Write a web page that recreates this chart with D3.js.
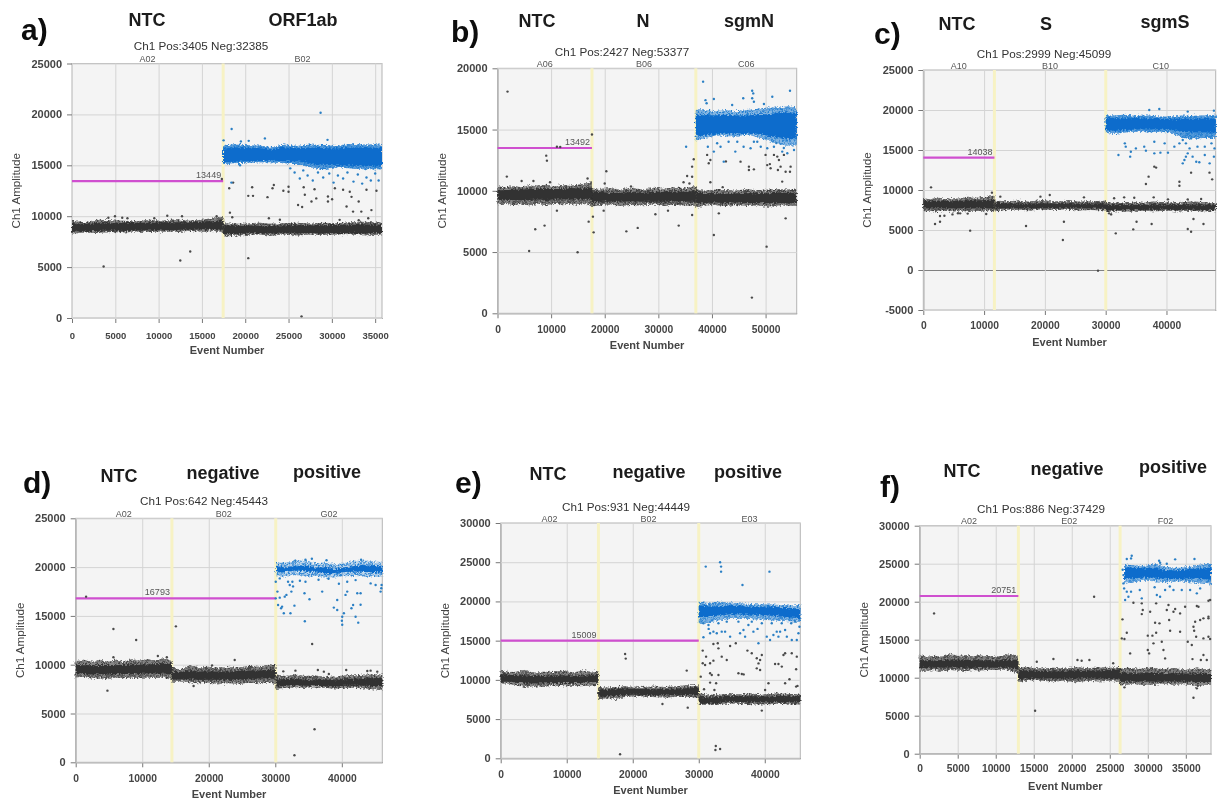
<!DOCTYPE html>
<html>
<head>
<meta charset="utf-8">
<script src="https://cdn.jsdelivr.net/npm/d3@7"></script>
<style>
    html, body { margin: 0; background: #fff; }
    svg { display: block; }
    text { font-family: "Liberation Sans", Arial, sans-serif; }
</style>
</head>
<body>
<div id="chart"></div>
<script>
// All amplitudes and event numbers below are read by eye off the reference.
// Band rows: [event, low edge, core low, core high, high edge]

// a) ORF1ab
const aTitle = "Ch1 Pos:3405 Neg:32385"
const aWells = ["A02", "B02"]
const aSplits = [17450]
const aXTicks = [0, 5000, 10000, 15000, 20000, 25000, 30000, 35000]
const aYTicks = [0, 5000, 10000, 15000, 20000, 25000]
const aGray = [
    [[0,8300,8500,9300,9550],[1500,8400,8550,9250,9400],[3000,8350,8550,9300,9650],[4500,8450,8600,9300,9600],[6000,8400,8550,9350,9550],[7500,8500,8600,9350,9500],[9000,8450,8600,9350,9650],[10500,8500,8650,9400,9550],[12000,8450,8650,9400,9700],[13500,8550,8700,9400,9550],[15000,8500,8700,9450,9650],[16500,8550,8750,9500,9850],[17450,8400,8700,9550,10000]],
    [[17450,8000,8250,9100,9300],[18500,8050,8250,9050,9250],[20000,8150,8300,9050,9250],[21500,8200,8350,9100,9350],[23000,8100,8300,9050,9250],[24500,8200,8350,9100,9300],[26000,8100,8300,9100,9350],[27500,8200,8350,9100,9250],[29000,8150,8300,9100,9350],[30500,8200,8350,9150,9300],[32000,8250,8350,9150,9400],[33500,8100,8350,9200,9450],[35790,8200,8350,9150,9350]]
]
const aBlue = [
    [[17450,15100,15300,16650,16900],[18500,15200,15350,16750,17050],[20000,15250,15400,16700,17000],[21500,15300,15400,16700,16950],[23000,15300,15450,16550,16800],[24500,15200,15400,16750,17050],[26000,15100,15400,16700,16900],[27500,14800,15200,16700,17050],[29000,14600,15050,16700,17000],[30500,14800,15000,16650,16900],[32000,14700,15000,16750,17100],[33500,14600,14900,16750,17050],[35790,14600,14950,16700,17050]]
]
const aGrayDots = [[3650,5060],[12500,5650],[13650,6530],[20350,5880],[26500,160],[18230,10350],[18500,9900],[18600,13300],[18150,12750],[20800,12850],[20350,12000],[20900,12000],[22570,11870],[23300,13070],[23150,12750],[24400,12500],[25000,12900],[25000,12400],[26100,11100],[26570,10900],[26750,12850],[26880,12100],[27650,11450],[28200,11750],[28000,12650],[29550,11930],[29550,11450],[30030,11670],[30350,12750],[31300,12600],[32070,12400],[32270,11900],[31700,10950],[32450,10450],[33100,11450],[33400,10450],[34570,10600],[34000,12600],[35150,12500],[4960,10000],[4200,9850],[5800,9850],[6400,9800],[9500,9800],[11000,10050],[12700,10000],[16700,10000],[22730,9800],[24000,9650],[30900,9640],[34200,9800],[33100,9600],[17300,13650]]
const aBlueDots = [[18430,18560],[28700,20160],[22270,17640],[17500,17450],[19500,17350],[20400,17400],[29500,17500],[26700,14500],[26300,13700],[27200,14000],[27800,13500],[28400,14300],[29000,13800],[29700,14200],[30200,13300],[30700,14000],[31300,13700],[31800,14300],[32500,13400],[33000,14100],[33500,13200],[34000,13800],[34500,13500],[35000,14200],[35400,13500],[25200,14700],[25700,14300],[19400,15000],[18400,13300]]

// b) N / sgmN
const bTitle = "Ch1 Pos:2427 Neg:53377"
const bWells = ["A06", "B06", "C06"]
const bSplits = [17620, 36990]
const bXTicks = [0, 10000, 20000, 30000, 40000, 50000]
const bYTicks = [0, 5000, 10000, 15000, 20000]
const bGray = [
    [[0,8900,9200,10050,10350],[1500,8950,9250,10050,10300],[3000,8850,9250,10100,10400],[4500,8950,9250,10100,10300],[6000,8800,9250,10150,10450],[7500,8950,9300,10150,10350],[9000,8850,9250,10150,10500],[10500,8950,9300,10150,10350],[12000,8900,9300,10150,10450],[13500,8950,9300,10200,10400],[15000,8850,9300,10200,10500],[16500,8950,9350,10200,10600],[17620,8700,9250,10300,10800]],
    [[17620,8700,9050,9950,10200],[19000,8850,9100,9900,10150],[21000,8900,9100,9850,10200],[23000,8750,9100,9850,10100],[25000,8850,9150,9900,10250],[27000,8800,9100,9850,10100],[29000,8900,9100,9900,10250],[31000,8750,9100,9900,10150],[33000,8850,9150,9950,10300],[35000,8800,9100,9900,10200],[36990,8750,9100,10000,10400]],
    [[36990,8600,9000,9900,10150],[38500,8800,9000,9800,10000],[40500,8850,9050,9800,10100],[42500,8750,9000,9750,10050],[44500,8850,9050,9800,10000],[46500,8750,9000,9800,10150],[48500,8800,9000,9800,10050],[50500,8700,9000,9800,10100],[52500,8800,9000,9850,10150],[55804,8750,9000,9850,10100]]
]
const bBlue = [
    [[36990,14100,14500,16200,16700],[38500,14300,14500,16200,16600],[40500,14500,14650,16150,16500],[42500,14500,14700,16200,16600],[44500,14400,14650,16150,16500],[46500,14600,14700,16150,16600],[48500,14400,14650,16250,16700],[50500,14100,14500,16250,16800],[52500,13800,14350,16400,16800],[54000,13700,14250,16400,16900],[55804,13700,14200,16400,16800]]
]
const bGrayDots = [[1870,18100],[5900,5090],[7040,6860],[8780,7160],[9090,12870],[9220,12460],[1740,11160],[14940,4980],[11080,8380],[11080,13600],[11700,13580],[17620,14590],[17000,7480],[17800,7890],[17930,6610],[20300,11590],[19800,8380],[24030,6690],[26150,6970],[29450,8080],[31800,8380],[33800,7160],[35370,11210],[36300,8030],[36300,11970],[36600,12570],[36300,11150],[39100,12930],[39700,12520],[39400,12250],[40350,6390],[41280,8160],[50190,5440],[47450,1280],[53740,7750],[53100,10750],[45330,12380],[46890,11700],[46890,11970],[47820,11750],[50310,12100],[50800,12180],[50930,11840],[50000,12930],[51560,12930],[52180,12790],[52490,12520],[52800,11970],[52300,11700],[53740,11560],[54550,11560],[54670,11970],[53420,12930],[42600,12400],[16800,11000],[4500,10800],[6700,10800],[9800,10700],[20000,10600],[24900,10350],[34700,10700],[35800,10600],[39700,10700],[42000,10300]]
const bBlueDots = [[38350,18910],[38800,17400],[39000,17150],[45830,17550],[47500,18170],[47700,17950],[47500,17550],[54550,18170],[51250,17680],[49690,17090],[47820,17270],[43770,17000],[40350,17500],[35180,13600],[39230,13600],[40350,13200],[41600,13600],[42200,12380],[43100,14010],[44350,13200],[45900,13600],[47200,13470],[47820,14010],[49100,13600],[50310,13470],[51560,13600],[53100,13200],[54050,13060],[55300,13330],[48450,14000],[40970,13880],[44720,14010],[52000,13900],[53400,13500]]

// c) S / sgmS
const cTitle = "Ch1 Pos:2999 Neg:45099"
const cWells = ["A10", "B10", "C10"]
const cSplits = [11700, 30010]
const cXTicks = [0, 10000, 20000, 30000, 40000]
const cYTicks = [-5000, 0, 5000, 10000, 15000, 20000, 25000]
const cGray = [
    [[0,7300,7700,8650,8950],[1200,7400,7700,8600,8850],[2400,7250,7700,8650,9050],[3600,7400,7700,8650,8850],[4800,7300,7700,8600,9000],[6000,7400,7700,8700,8900],[7200,7350,7700,8650,9150],[8400,7400,7700,8700,9000],[9600,7300,7700,8700,9100],[10800,7450,7700,8750,9200],[11700,7300,7650,8800,9300]],
    [[11700,7300,7650,8400,8700],[13500,7500,7700,8350,8600],[15500,7550,7700,8300,8650],[17500,7450,7700,8300,8550],[19500,7550,7700,8350,8750],[21500,7500,7700,8300,8550],[23500,7550,7700,8300,8650],[25500,7450,7700,8300,8550],[27500,7500,7700,8300,8600],[30010,7450,7650,8350,8650]],
    [[30010,7250,7450,8200,8500],[32000,7350,7500,8150,8450],[34000,7300,7500,8150,8500],[36000,7400,7550,8150,8400],[38000,7350,7550,8200,8550],[40000,7400,7550,8150,8450],[42000,7300,7500,8200,8500],[44000,7400,7550,8200,8550],[46000,7350,7500,8200,8500],[48098,7350,7500,8200,8450]]
]
const cBlue = [
    [[30010,17200,17500,19050,19300],[31500,17000,17400,19000,19300],[33000,17150,17500,18950,19400],[35000,17300,17550,19000,19250],[37000,17200,17550,18950,19300],[39000,17300,17600,18900,19200],[41000,17100,17500,18850,19200],[42500,16500,17300,18950,19300],[44000,16400,17200,18900,19250],[46000,16500,17200,18900,19300],[48098,16500,17150,18950,19400]]
]
const cGrayDots = [[1270,10330],[1930,5750],[2750,6040],[2750,6750],[3470,6790],[7710,4920],[10350,7000],[6060,7080],[16900,5500],[23130,6040],[22960,3750],[28740,-80],[31660,4580],[34530,5080],[35080,6040],[37560,5750],[44440,6375],[43500,5125],[44050,4790],[46090,5750],[36620,10750],[37060,11670],[42130,11040],[42130,10540],[44050,12170],[47080,12170],[47520,11330],[38000,12920],[38300,12800],[11290,9670],[31390,8960],[33040,9080],[34700,9040],[37900,9080],[40250,8830],[19270,9170],[20800,9375],[12670,9170],[26430,9080],[43500,8830],[45700,8870],[30560,7080],[30900,6950],[5700,7100],[7300,7050],[4800,6950]]
const cBlueDots = [[32100,14375],[33150,15830],[33300,15420],[34970,15200],[34140,14790],[34030,14170],[36340,15420],[36620,14920],[38000,16040],[38000,14580],[39000,14670],[40250,14670],[39700,15830],[41300,15420],[42680,13330],[42950,13750],[43200,14170],[43500,14580],[43800,15200],[44300,14170],[44900,13540],[45400,13460],[46300,14375],[47100,13330],[47800,14170],[42130,15830],[42680,16250],[43200,15830],[44050,16450],[45100,15420],[46300,15420],[47400,15830],[47900,15200],[37170,20000],[38820,20125],[47800,19920],[43500,19800]]

// d) NTC / negative / positive
const dTitle = "Ch1 Pos:642 Neg:45443"
const dWells = ["A02", "B02", "G02"]
const dSplits = [14460, 30070]
const dXTicks = [0, 10000, 20000, 30000, 40000]
const dYTicks = [0, 5000, 10000, 15000, 20000, 25000]
const dGray = [
    [[0,8700,9000,10000,10350],[1200,8800,9050,9950,10500],[2400,8550,9000,9950,10300],[3600,8650,9050,9950,10500],[4800,8500,9000,9950,10300],[6000,8700,9050,9950,10500],[7200,8600,9050,10000,10350],[8400,8700,9050,10000,10550],[9600,8600,9050,10000,10400],[10800,8700,9100,10050,10550],[12000,8650,9100,10050,10400],[13300,8700,9100,10100,10650],[14460,8400,9000,10100,10400]],
    [[14460,8150,8450,9250,9700],[15700,8300,8500,9250,9500],[17000,8200,8500,9400,9950],[18500,8100,8450,9300,9750],[20000,8150,8450,9300,9800],[21500,8000,8450,9300,9650],[23000,8100,8450,9300,9800],[24500,8000,8500,9350,9700],[26000,8150,8500,9400,9900],[27500,8100,8550,9400,9800],[29000,8200,8600,9450,10000],[30070,8000,8500,9500,10050]],
    [[30070,7500,7750,8500,9000],[31500,7650,7850,8500,8850],[33000,7700,7900,8550,9000],[34500,7650,7850,8450,8850],[36000,7700,7850,8450,8900],[37500,7600,7800,8450,8750],[39000,7550,7800,8400,8800],[40500,7650,7850,8500,8900],[42000,7650,7850,8550,8900],[43500,7550,7850,8600,9000],[46085,7400,7800,8650,9000]]
]
const dBlue = [
    [[30200,19050,19450,20150,20500],[31500,19000,19500,19950,20450],[33000,19200,19650,20100,20650],[34500,19050,19600,20150,20700],[36000,19000,19500,19950,20400],[37500,18900,19350,19950,20500],[39000,18950,19400,19800,20300],[40500,19050,19500,19950,20450],[42000,19100,19550,20100,20650],[43500,19000,19500,20200,20700],[45000,19000,19500,20150,20550],[46085,19000,19450,20000,20550]]
]
const dGrayDots = [[4770,7340],[5670,13660],[9090,12530],[1560,16970],[15060,13930],[23900,10480],[35900,3380],[32880,720],[35540,12120],[17720,7820],[12350,10890],[13700,10760],[5670,10760],[31200,9320],[33030,9390],[36400,9460],[37300,9290],[40660,9460],[43830,9360],[44330,9390],[45330,9290],[38050,9050],[20500,9930]]
const dBlueDots = [[30420,16120],[31020,15950],[30870,15780],[31280,15270],[32280,15270],[32880,16050],[34440,14450],[35140,16700],[34390,17320],[34540,18500],[37050,17490],[38800,15850],[39310,15610],[40060,14920],[40010,14510],[40060,14100],[40310,15270],[41700,16120],[41450,15780],[42820,16150],[42070,14920],[42470,14310],[39310,16630],[40560,17150],[40810,17490],[39560,18300],[40810,18500],[42070,18670],[42320,17320],[42820,17320],[44330,18330],[45080,18160],[45830,17490],[45930,17830],[45980,18160],[30320,17490],[30070,16800],[30670,16870],[31420,16970],[31670,17150],[32420,17490],[32670,18020],[31920,18500],[32170,18160],[32570,18500],[30070,18500],[30670,18840],[34540,20750],[33000,20650],[35500,20850],[37700,20700],[42900,20750],[36500,18700],[33700,18600],[38000,18800]]

// e) NTC / negative / positive
const eTitle = "Ch1 Pos:931 Neg:44449"
const eWells = ["A02", "B02", "E03"]
const eSplits = [14800, 30000]
const eXTicks = [0, 10000, 20000, 30000, 40000]
const eYTicks = [0, 5000, 10000, 15000, 20000, 25000, 30000]
const eGray = [
    [[0,9500,9750,10750,11300],[1200,9500,9750,10650,11000],[2400,9300,9650,10600,11050],[3600,9100,9550,10550,11300],[5000,9200,9550,10500,10950],[6500,9100,9550,10500,11050],[8000,9300,9600,10550,11000],[9500,9200,9600,10550,11200],[11000,9250,9600,10500,10950],[12500,9200,9650,10550,11200],[14000,9300,9700,10600,11050],[14800,9350,9750,10700,11100]],
    [[14800,7500,7850,8800,9100],[16000,7700,7950,8750,9000],[17500,7600,7950,8850,9100],[19000,7850,8100,8900,9200],[21000,7900,8100,8850,9100],[23000,7800,8050,8800,9150],[25000,7750,8050,8850,9100],[27000,7850,8100,8900,9250],[29000,7800,8050,8950,9300],[30000,7700,8000,8950,9350]],
    [[30000,6800,7000,7800,8300],[31500,6850,7000,7750,8100],[33000,6800,7050,7800,8100],[34000,7000,7200,7950,8200],[36000,6950,7150,7900,8150],[38000,6900,7100,7900,8250],[40000,6850,7100,7850,8100],[42000,6950,7150,7950,8300],[44000,6850,7100,7900,8200],[45380,6850,7100,7900,8150]]
]
const eBlue = [
    [[30000,17100,18000,19500,19950],[31500,17300,18000,19350,19800],[33000,17600,18200,19400,19950],[35000,17800,18400,19450,19850],[37000,17800,18350,19400,19700],[39000,17700,18300,19300,19650],[41000,17600,18200,19350,19600],[43000,17500,18000,19200,19500],[45380,17400,17850,19000,19500]]
]
const eGrayDots = [[18080,510],[18840,13300],[18940,12710],[28180,11180],[28330,6460],[24500,6930],[32580,1570],[32520,1060],[33230,1190],[39550,6080],[30600,13730],[30600,12110],[31110,12960],[30960,11900],[30300,10410],[31720,10840],[31720,12110],[32220,12450],[32980,10620],[31970,10620],[31720,9650],[32370,8710],[32630,9560],[32880,14660],[32980,14020],[33480,12960],[34240,12540],[32220,14580],[34750,14320],[35610,14660],[36010,10840],[36520,10750],[36800,10700],[37370,13730],[38030,13390],[38790,12750],[39290,12540],[39050,12100],[38790,11470],[39290,11260],[39550,13170],[41560,12030],[42070,12030],[42580,11690],[42830,13170],[43080,13390],[44090,13390],[44850,12960],[44750,11350],[43740,10070],[43080,9560],[40050,8710],[40560,9560],[44750,9140],[44950,9230],[30800,8800]]
const eBlueDots = [[31060,24440],[33230,24990],[33380,24440],[33380,23800],[36620,22100],[40710,23800],[30710,15430],[31720,15940],[32220,16150],[32730,15940],[33480,16150],[33990,16150],[34750,15510],[36260,15940],[36770,16360],[37020,15510],[37520,17000],[38280,16150],[39040,14660],[40300,15510],[40800,15090],[41310,15720],[41810,16150],[42320,16150],[43080,16360],[44090,15090],[44850,15090],[45100,15940],[45250,16780],[44000,17210],[42570,17210],[41060,17210],[39550,17210],[38030,17420],[36010,17420],[34240,17420],[32980,17210],[31470,17000],[30710,17210],[44600,17420],[43340,15510],[42070,15510],[31500,16500],[38900,16500]]

// f) NTC / negative / positive
const fTitle = "Ch1 Pos:886 Neg:37429"
const fWells = ["A02", "E02", "F02"]
const fSplits = [12980, 26360]
const fXTicks = [0, 5000, 10000, 15000, 20000, 25000, 30000, 35000]
const fYTicks = [0, 5000, 10000, 15000, 20000, 25000, 30000]
const fGray = [
    [[0,10950,11300,12300,12950],[1000,10900,11300,12300,12750],[2000,11000,11300,12250,12900],[3000,10850,11300,12300,12800],[4000,11000,11350,12400,13150],[5000,10950,11300,12350,12850],[6000,10850,11300,12350,13000],[7000,11000,11300,12300,12800],[8000,10950,11300,12300,12950],[9000,11050,11300,12300,12800],[10000,11000,11300,12250,12750],[11000,11050,11300,12300,12900],[12000,10900,11300,12350,13150],[12980,10500,11000,12400,12900]],
    [[12980,9450,9800,11000,11400],[14500,9650,9900,10900,11350],[16000,9600,9900,10900,11200],[17500,9500,9900,10850,11300],[19000,9600,9900,10900,11200],[20500,9400,9900,10950,11400],[22000,9600,9900,10900,11250],[23500,9500,9900,10950,11350],[25000,9600,9950,11000,11300],[26360,9450,9900,11050,11400]],
    [[26360,8950,9450,10700,11200],[27500,9200,9500,10600,11300],[29000,9100,9500,10600,11150],[30500,9050,9500,10650,11350],[32000,9200,9500,10600,11100],[33500,9100,9500,10600,11250],[35000,9150,9500,10550,11050],[36500,8950,9450,10550,11200],[38315,9100,9450,10500,11050]]
]
const fBlue = [
    [[26900,22400,23000,24500,24900],[28000,22500,23050,24500,24800],[29500,22800,23200,24400,24700],[31000,22700,23150,24500,25000],[32500,22550,23000,24150,24600],[34000,22700,22950,24100,24450],[35500,22600,23050,24300,24600],[37000,22350,22950,24350,24900],[38315,22300,22900,24500,25000]]
]
const fGrayDots = [[1890,18460],[22940,20660],[15180,5660],[36010,7370],[15400,12100],[17590,12460],[20750,12320],[21300,12230],[22320,12320],[25450,11900],[36450,8600],[36580,8950],[26930,8730],[26580,15170],[26930,15090],[27240,15920],[27680,13200],[26670,17680],[30000,13640],[30180,13200],[30000,15530],[30610,15530],[31100,15920],[30750,14520],[31840,14740],[32060,13640],[32280,12540],[30960,17240],[31540,17150],[32810,17590],[32940,16180],[34250,16050],[35260,14740],[35790,14300],[36010,16710],[36100,16180],[36360,15390],[36230,17370],[36890,17590],[37320,17810],[37980,17810],[37980,18030],[37320,15170],[37980,15390],[38200,15090],[37320,12980],[37760,12320],[35880,12450],[36980,12320],[29210,18370],[29340,18900],[30310,18680],[28110,19870],[29210,19780],[31100,19780],[32500,18900],[33380,18680],[33600,19040],[34910,19340],[36450,19430],[36670,19340],[37980,20130],[38200,20220],[32720,19560],[34250,18460]]
const fBlueDots = [[27240,25610],[27890,26050],[27800,25700],[31490,25390],[31620,25130],[33600,25570],[36140,25610],[32500,25000],[26800,22410],[26890,21750],[27240,21320],[27800,21320],[27450,20660],[27020,20220],[28950,21540],[29210,20440],[31190,20880],[31620,20660],[32280,21540],[33380,21540],[34470,21540],[35570,21540],[36450,21100],[36890,21750],[26800,23500],[26700,24200],[30900,21900],[32900,22000]]

// Headers above each well group, placement only
const aHeaders = [["NTC", 147, 26], ["ORF1ab", 303, 26]]
const bHeaders = [["NTC", 537, 27], ["N", 643, 27], ["sgmN", 749, 27]]
const cHeaders = [["NTC", 957, 30], ["S", 1046, 30], ["sgmS", 1165, 28]]
const dHeaders = [["NTC", 119, 482], ["negative", 223, 479], ["positive", 327, 478]]
const eHeaders = [["NTC", 548, 480], ["negative", 649, 478], ["positive", 748, 478]]
const fHeaders = [["NTC", 962, 477], ["negative", 1067, 475], ["positive", 1173, 473]]

const panels = [
    {letter: "a)", letterX: 21, letterY: 40, left: 72, right: 382, top: 63.5, bottom: 318, xMax: 35790, yMin: 0, yMax: 25000, threshold: 13449, thresholdEnd: 17450, title: aTitle, titleX: 201, titleY: 50, wells: aWells, splits: aSplits, xTicks: aXTicks, yTicks: aYTicks, gray: aGray, blue: aBlue, grayDots: aGrayDots, blueDots: aBlueDots, headers: aHeaders, xFont: 9.5, xPad: 9, blueWash: 0.7},
    {letter: "b)", letterX: 451, letterY: 42, left: 497.5, right: 796.7, top: 68.3, bottom: 313.3, xMax: 55804, yMin: 0, yMax: 20000, threshold: 13492, thresholdEnd: 17620, title: bTitle, titleX: 622, titleY: 56, wells: bWells, splits: bSplits, xTicks: bXTicks, yTicks: bYTicks, gray: bGray, blue: bBlue, grayDots: bGrayDots, blueDots: bBlueDots, headers: bHeaders, xFont: 10.3, xPad: 7, blueWash: 0.5},
    {letter: "c)", letterX: 874, letterY: 44, left: 923.3, right: 1215.7, top: 70, bottom: 310, xMax: 48098, yMin: -5000, yMax: 25000, threshold: 14038, thresholdEnd: 11700, title: cTitle, titleX: 1044, titleY: 58, wells: cWells, splits: cSplits, xTicks: cXTicks, yTicks: cYTicks, gray: cGray, blue: cBlue, grayDots: cGrayDots, blueDots: cBlueDots, headers: cHeaders, xFont: 10.3, xPad: 7, blueWash: 0.7},
    {letter: "d)", letterX: 23, letterY: 493, left: 75.7, right: 382.3, top: 518.3, bottom: 762.3, xMax: 46085, yMin: 0, yMax: 25000, threshold: 16793, thresholdEnd: 30070, title: dTitle, titleX: 204, titleY: 505, wells: dWells, splits: dSplits, xTicks: dXTicks, yTicks: dYTicks, gray: dGray, blue: dBlue, grayDots: dGrayDots, blueDots: dBlueDots, headers: dHeaders, xFont: 10.3, xPad: 7, blueWash: 0.2},
    {letter: "e)", letterX: 455, letterY: 493, left: 500.7, right: 800.3, top: 523, bottom: 758.3, xMax: 45380, yMin: 0, yMax: 30000, threshold: 15009, thresholdEnd: 30000, title: eTitle, titleX: 626, titleY: 511, wells: eWells, splits: eSplits, xTicks: eXTicks, yTicks: eYTicks, gray: eGray, blue: eBlue, grayDots: eGrayDots, blueDots: eBlueDots, headers: eHeaders, xFont: 10.3, xPad: 7, blueWash: 0.5},
    {letter: "f)", letterX: 880, letterY: 497, left: 919.7, right: 1211, top: 525.7, bottom: 753.7, xMax: 38315, yMin: 0, yMax: 30000, threshold: 20751, thresholdEnd: 12980, title: fTitle, titleX: 1041, titleY: 513, wells: fWells, splits: fSplits, xTicks: fXTicks, yTicks: fYTicks, gray: fGray, blue: fBlue, grayDots: fGrayDots, blueDots: fBlueDots, headers: fHeaders, xFont: 10.3, xPad: 6, blueWash: 0.5}
]

// Speckle tile for the thin edges of the droplet clouds
const speckle = [[1,1],[4,0.5],[7.5,1.5],[10,0.5],[2.5,3],[6,3.5],[9,3],[0.5,5],[4,5.5],[7.5,5],[10.5,5.5],[2,7.5],[5.5,7.5],[9,8]]

const svg = d3.select("#chart").append("svg")
    .attr("width", 1219)
    .attr("height", 802)
const defs = svg.append("defs")

// The source is a soft, rescaled screenshot
defs.append("filter").attr("id", "soft")
    .append("feGaussianBlur").attr("stdDeviation", 0.45)

// Breaks up the clean band edges
const rough = defs.append("filter").attr("id", "rough")
    .attr("x", "-2%").attr("y", "-20%").attr("width", "104%").attr("height", "140%")
rough.append("feTurbulence")
    .attr("type", "fractalNoise").attr("baseFrequency", 0.55)
    .attr("numOctaves", 2).attr("seed", 4).attr("result", "noise")
rough.append("feDisplacementMap")
    .attr("in", "SourceGraphic").attr("in2", "noise")
    .attr("scale", 5).attr("xChannelSelector", "R").attr("yChannelSelector", "G")

function addSpeckle(id, color) {
    const tile = defs.append("pattern").attr("id", id)
        .attr("patternUnits", "userSpaceOnUse").attr("width", 11).attr("height", 9.5)
    tile.selectAll("circle").data(speckle).join("circle")
        .attr("cx", d => d[0]).attr("cy", d => d[1]).attr("r", 1).attr("fill", color)
}
addSpeckle("speckle-gray", "#3a3a3a")
addSpeckle("speckle-blue", "#1f7ccf")

const root = svg.append("g").attr("filter", "url(#soft)")

panels.forEach(drawPanel)

function drawPanel(p) {
    const x = d3.scaleLinear().domain([0, p.xMax]).range([p.left, p.right])
    const y = d3.scaleLinear().domain([p.yMin, p.yMax]).range([p.bottom, p.top])
    const g = root.append("g")

    g.append("rect")
        .attr("x", p.left).attr("y", p.top)
        .attr("width", p.right - p.left).attr("height", p.bottom - p.top)
        .attr("fill", "#f4f4f4").attr("stroke", "#b4b4b4")

    // Grid lines come from the same axes as the ticks
    const yAxis = g.append("g")
        .attr("transform", translate(p.left, 0))
        .call(d3.axisLeft(y).tickValues(p.yTicks).tickSize(5).tickSizeOuter(0).tickPadding(5).tickFormat(String))
    const xAxis = g.append("g")
        .attr("transform", translate(0, p.bottom))
        .call(d3.axisBottom(x).tickValues(p.xTicks).tickSize(5).tickSizeOuter(0).tickPadding(p.xPad).tickFormat(String))
    g.append("g").attr("transform", translate(p.left, 0))
        .call(d3.axisRight(y).tickValues(p.yTicks).tickSize(p.right - p.left).tickFormat(""))
        .call(s => s.select(".domain").remove())
        .selectAll("line").attr("stroke", d => d === 0 && p.yMin < 0 ? "#808080" : "#d4d4d4")
    g.append("g").attr("transform", translate(0, p.top))
        .call(d3.axisBottom(x).tickValues(p.xTicks).tickSize(p.bottom - p.top).tickFormat(""))
        .call(s => s.select(".domain").remove())
        .selectAll("line").attr("stroke", "#d4d4d4")
    for (const axis of [xAxis, yAxis]) {
        axis.select(".domain").attr("stroke", "#777")
        axis.selectAll("line").attr("stroke", "#777")
        axis.selectAll("text").attr("fill", "#444")
    }
    yAxis.selectAll("text").style("font", "bold 11px 'Liberation Sans', Arial, sans-serif")
    xAxis.selectAll("text").style("font", `bold ${p.xFont}px 'Liberation Sans', Arial, sans-serif`)

    // Well dividers
    g.selectAll(".split").data(p.splits).join("line")
        .attr("x1", d => x(d)).attr("x2", d => x(d))
        .attr("y1", p.top).attr("y2", p.bottom)
        .attr("stroke", "#f7f2c4").attr("stroke-width", 3)

    // Threshold
    g.append("line")
        .attr("x1", x(0)).attr("x2", x(p.thresholdEnd))
        .attr("y1", y(p.threshold)).attr("y2", y(p.threshold))
        .attr("stroke", "#cf4fcf").attr("stroke-width", 2.2)
    g.append("text")
        .attr("x", x(p.splits[0]) - 2).attr("y", y(p.threshold) - 3)
        .attr("text-anchor", "end").attr("font-size", 9).attr("fill", "#555")
        .text(p.threshold)

    // Dense droplet clouds: washed and speckled envelope, then the saturated core
    const outer = d3.area().x(d => x(d[0])).y0(d => y(d[1])).y1(d => y(d[4]))
    const core = d3.area().x(d => x(d[0])).y0(d => y(d[2])).y1(d => y(d[3]))
    const clouds = g.append("g").attr("filter", "url(#rough)")
    clouds.selectAll(".gray-wash").data(p.gray).join("path").attr("d", outer).attr("fill", "#5a5a5a").attr("opacity", 0.7)
    clouds.selectAll(".gray-outer").data(p.gray).join("path").attr("d", outer).attr("fill", "url(#speckle-gray)")
    clouds.selectAll(".gray-core").data(p.gray).join("path").attr("d", core).attr("fill", "#303030")
    clouds.selectAll(".blue-wash").data(p.blue).join("path").attr("d", outer).attr("fill", "#1a78d0").attr("opacity", p.blueWash)
    clouds.selectAll(".blue-outer").data(p.blue).join("path").attr("d", outer).attr("fill", "url(#speckle-blue)")
    clouds.selectAll(".blue-core").data(p.blue).join("path").attr("d", core).attr("fill", "#0a6ccc")

    // Single droplets
    g.selectAll(".gray-dot").data(p.grayDots).join("circle")
        .attr("cx", d => x(d[0])).attr("cy", d => y(d[1]))
        .attr("r", 1.2).attr("fill", "#4a4a4a")
    g.selectAll(".blue-dot").data(p.blueDots).join("circle")
        .attr("cx", d => x(d[0])).attr("cy", d => y(d[1]))
        .attr("r", 1.2).attr("fill", "#2a7fc4")

    // Well names along the top
    const edges = [0, ...p.splits, p.xMax]
    g.selectAll(".well").data(p.wells).join("text")
        .attr("x", (d, i) => x((edges[i] + edges[i + 1]) / 2))
        .attr("y", p.top - 1.5)
        .attr("text-anchor", "middle").attr("font-size", 9).attr("fill", "#555")
        .text(d => d)

    g.append("text")
        .attr("x", p.titleX).attr("y", p.titleY)
        .attr("text-anchor", "middle").attr("font-size", 11.7).attr("fill", "#333")
        .text(p.title)
    g.append("text")
        .attr("transform", `${translate(p.left - 52, (p.top + p.bottom) / 2)} rotate(-90)`)
        .attr("text-anchor", "middle").attr("font-size", 11.6).attr("fill", "#444")
        .text("Ch1 Amplitude")
    g.append("text")
        .attr("x", (p.left + p.right) / 2).attr("y", p.bottom + 36)
        .attr("text-anchor", "middle").attr("font-size", 11).attr("fill", "#444")
        .attr("font-weight", "bold")
        .text("Event Number")

    g.append("text")
        .attr("x", p.letterX).attr("y", p.letterY)
        .attr("font-size", 30).attr("font-weight", "bold").attr("fill", "#111")
        .text(p.letter)
    g.selectAll(".header").data(p.headers).join("text")
        .attr("x", d => d[1]).attr("y", d => d[2])
        .attr("text-anchor", "middle")
        .attr("font-size", 18).attr("font-weight", "bold").attr("fill", "#1a1a1a")
        .text(d => d[0])
}

function translate(x, y) {
    return `translate(${x},${y})`
}
</script>
</body>
</html>
